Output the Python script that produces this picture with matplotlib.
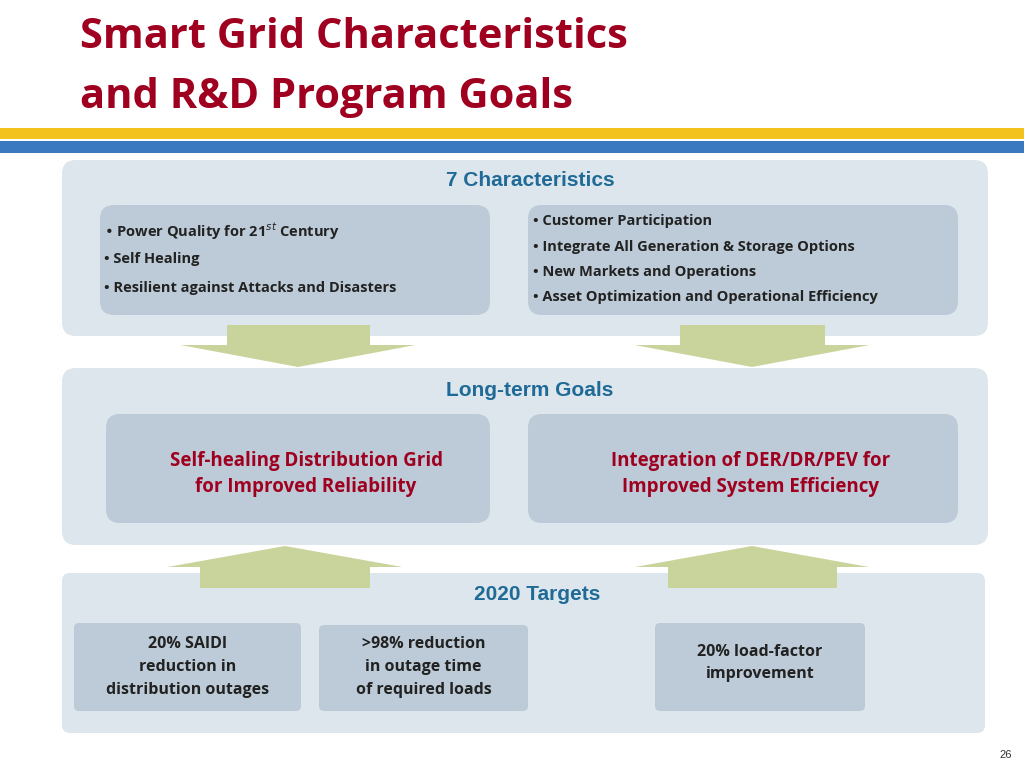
import matplotlib
matplotlib.use("Agg")
import matplotlib.pyplot as plt
from matplotlib.patches import FancyBboxPatch, Rectangle, Polygon

title_lines = ["Smart Grid Characteristics", "and R&D Program Goals"]
section_heads = ["7 Characteristics", "Long-term Goals", "2020 Targets"]
char_left = ["Power Quality for 21$^{st}$ Century", "Self Healing",
             "Resilient against Attacks and Disasters"]
char_right = ["Customer Participation", "Integrate All Generation & Storage Options",
              "New Markets and Operations", "Asset Optimization and Operational Efficiency"]
goals = ["Self-healing Distribution Grid\nfor Improved Reliability",
         "Integration of DER/DR/PEV for\nImproved System Efficiency"]
targets = ["20% SAIDI\nreduction in\ndistribution outages",
           ">98% reduction\nin outage time\nof required loads",
           "20% load-factor\nimprovement"]
page_no = "26"

RED = "#A00020"
BLUE = "#1F6A96"
PANEL = "#DCE6EC"
BOX = "#BCCBD7"
ARROW = "#C9D49C"
BODY = "Open Sans"

fig = plt.figure(figsize=(10.24, 7.68), dpi=100)
ax = fig.add_axes([0, 0, 1, 1])
ax.set_xlim(0, 1024)
ax.set_ylim(768, 0)
ax.axis("off")


def rbox(x0, y0, x1, y1, color, r=14):
    ax.add_patch(FancyBboxPatch((x0 + r, y0 + r), x1 - x0 - 2 * r, y1 - y0 - 2 * r,
                                boxstyle="round,pad=%d" % r, fc=color, ec="none"))


def arrow(cx, bar_w, tri_w, y_bar0, y_bar1, y_apex):
    ax.add_patch(Rectangle((cx - bar_w / 2, min(y_bar0, y_bar1)), bar_w,
                           abs(y_bar1 - y_bar0), fc=ARROW, ec="none"))
    ax.add_patch(Polygon([(cx - tri_w / 2, y_bar1), (cx + tri_w / 2, y_bar1), (cx, y_apex)],
                         fc=ARROW, ec="none"))


# title and stripes
for i, t in enumerate(title_lines):
    ax.text(80, 37 + i * 60, t, color=RED, fontsize=30, fontweight="bold",
            family=BODY, va="center")
ax.add_patch(Rectangle((0, 128), 1024, 11, fc="#F4C21C", ec="none"))
ax.add_patch(Rectangle((0, 141), 1024, 12, fc="#3A78C0", ec="none"))

# panels
rbox(62, 160, 988, 336, PANEL)
rbox(62, 368, 988, 545, PANEL)
rbox(62, 573, 985, 733, PANEL, r=8)

# arrows
arrow(298, 143, 235, 325, 345, 367)
arrow(752, 145, 235, 325, 345, 367)
arrow(285, 170, 235, 588, 567, 546)
arrow(752, 169, 234, 588, 567, 546)

heads_y = [181, 390, 595]
heads_x = [530, 530, 537]
for x, y, t in zip(heads_x, heads_y, section_heads):
    ax.text(x, y, t, color=BLUE, fontsize=15, fontweight="bold",
            family="Liberation Sans", ha="center", va="center")

# characteristic boxes
rbox(100, 205, 490, 315, BOX)
rbox(528, 205, 958, 315, BOX)
for i, t in enumerate(char_left):
    ax.text(104, 231 + i * 28.5, "\u2022 " + t, fontsize=10.5, fontweight="bold",
            family=BODY, color="#222222", va="center")
for i, t in enumerate(char_right):
    ax.text(533, 221 + i * 25.5, "\u2022 " + t, fontsize=10.5, fontweight="bold",
            family=BODY, color="#222222", va="center")

# goals
goal_boxes = [(106, 490), (528, 958)]
for (x0, x1), t in zip(goal_boxes, goals):
    rbox(x0, 414, x1, 523, BOX)
    ax.text((x0 + x1) / 2 + 8, 474, t, color=RED, fontsize=13.5, fontweight="bold",
            family=BODY, ha="center", va="center", linespacing=1.45)

# targets
target_boxes = [(74, 301, 623), (319, 528, 625), (655, 865, 623)]
for (x0, x1, y0), t in zip(target_boxes, targets):
    rbox(x0, y0, x1, 711, BOX, r=5)
    ax.text((x0 + x1) / 2, 667 if t.count("\n") == 2 else 663, t, color="#222222",
            fontsize=11.5, fontweight="bold", family=BODY, ha="center", va="center",
            linespacing=1.55)

ax.text(1006, 755, page_no, fontsize=8, family="Liberation Sans", ha="center",
        va="center", color="#333333")

fig.savefig("out.png", dpi=100, facecolor="white")
